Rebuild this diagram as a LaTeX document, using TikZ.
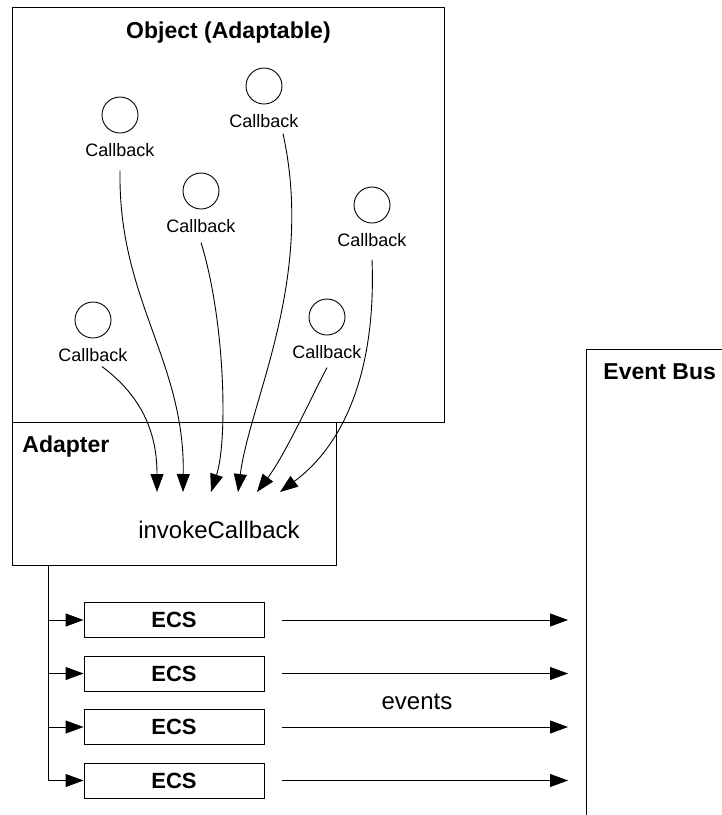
\documentclass[tikz,border=0pt]{standalone}
\usepackage{fontspec}
\setmainfont{Liberation Sans}
\usepackage{tikz}
\usetikzlibrary{positioning}
\usetikzlibrary{arrows.meta}

\begin{document}
\begin{tikzpicture}[-> , >={Triangle[length=18pt, width=13pt]}, line width=0.9pt,
        x=1pt, y=-1pt, node distance=17.6pt,
        cb/.style={circle, draw, minimum size=36pt, inner sep=0pt},
        cbtext/.style={inner sep=0pt, font=\fontsize{18}{20}\selectfont},
        box/.style={draw, rectangle, inner sep=0pt, anchor=north west},
        heading/.style={inner sep=0pt, font=\bfseries\fontsize{23}{26}\selectfont},
        plain/.style={inner sep=0pt, font=\fontsize{24}{27}\selectfont},
        ecs/.style={draw, rectangle, minimum width=180pt, minimum height=35pt,
            inner sep=0pt, font=\bfseries\fontsize{22}{25}\selectfont}]
    \useasboundingbox (0,0) rectangle (722,815);
    \clip (0,0) rectangle (722,815);

    \node [box, minimum width=432pt, minimum height=415pt] (obj) at (12,7) {};
    \node [box, minimum width=324pt, minimum height=143pt] (adapter) at (12,422) {};
    \node [box, minimum width=160pt, minimum height=480pt] (bus) at (586,349) {};

    \node [heading, below=14pt of obj.north] (objtitle) {Object (Adaptable)};
    \node [heading, below right=13pt and 10pt of adapter.north west] (adtitle) {Adapter};
    \node [heading, below right=14pt and 17pt of bus.north west] (bustitle) {Event Bus};

    \node [cb] (cb1) at (93,320) {};
    \node [cb] (cb2) at (120,115) {};
    \node [cb] (cb3) at (201,191) {};
    \node [cb] (cb4) at (264,86) {};
    \node [cb] (cb5) at (327,317) {};
    \node [cb] (cb6) at (372,205) {};
    \foreach \i in {1,...,6}
        \node [cbtext, below=10pt of cb\i] (lbl\i) {Callback};

    \coordinate (t1) at (157,492);
    \coordinate (t2) at (183,492);
    \coordinate (t3) at (211,492);
    \coordinate (t4) at (238,492);
    \coordinate (t5) at (257,492);
    \coordinate (t6) at (280,492);

    \draw ([xshift=9pt, yshift=-4pt]lbl1.south) .. controls (140,395) and (157,430) .. (t1);
    \draw ([yshift=-13pt]lbl2.south) .. controls (118,300) and (185,360) .. (t2);
    \draw ([yshift=-9pt]lbl3.south) .. controls (225,320) and (228,440) .. (t3);
    \draw ([xshift=19pt, yshift=-5pt]lbl4.south) .. controls (315,280) and (250,400) .. (t4);
    \draw ([yshift=-8pt]lbl5.south) .. controls (310,400) and (285,455) .. (t5);
    \draw ([yshift=-12pt]lbl6.south) .. controls (376,360) and (350,440) .. (t6);

    \node [plain] (invoke) at (219,530) {invokeCallback};

    \node [ecs] (ecs1) at (174,620) {ECS};
    \node [ecs, below=of ecs1] (ecs2) {ECS};
    \node [ecs, below=of ecs2] (ecs3) {ECS};
    \node [ecs, below=of ecs3] (ecs4) {ECS};

    \coordinate (trunk) at ([xshift=36pt]adapter.south west);
    \foreach \i in {1,...,4}
        \draw (trunk) |- (ecs\i);

    \foreach \i in {1,...,4}
        \draw [shorten <=18pt, shorten >=18pt] (ecs\i) -- (ecs\i -| bus.west);

    \node [plain] (events) at (417,702) {events};

\end{tikzpicture}
\end{document}
